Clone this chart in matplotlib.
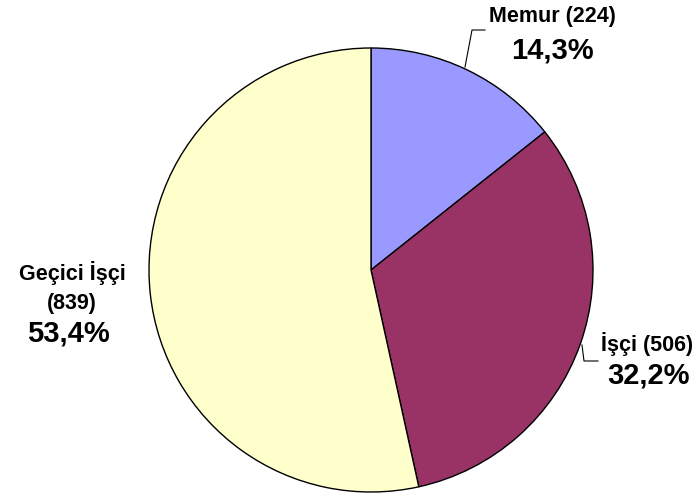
import matplotlib.pyplot as plt

plt.rcParams['font.family'] = ['Liberation Sans', 'DejaVu Sans']

labels = ['Memur', 'İşçi', 'Geçici İşçi']
counts = [224, 506, 839]
shares = [14.3, 32.2, 53.4]
colors = ['#9999FF', '#993366', '#FFFFCC']

W, H = 698, 499


def fy(py):
    # pixel row (top down) -> data y
    return H - py


fig = plt.figure(figsize=(W / 100, H / 100), dpi=100)
ax = fig.add_axes([0, 0, 1, 1])

ax.pie(shares, colors=colors, startangle=90, counterclock=False,
       center=(371, fy(270)), radius=222,
       wedgeprops=dict(edgecolor='black', linewidth=1))

ax.set_xlim(0, W)
ax.set_ylim(0, H)
ax.set_aspect('equal')
ax.axis('off')

small = dict(ha='center', va='baseline', fontsize=15.5, fontweight='bold')
big = dict(ha='center', va='baseline', fontsize=21, fontweight='bold')

# Memur
ax.plot([465, 472, 485], [fy(67), fy(30), fy(30)], color='black', lw=0.8)
ax.text(552, fy(22), 'Memur (%d)' % counts[0], **small)
ax.text(552, fy(58), '%.1f%%' % shares[0], **big)

# İşçi
ax.plot([582, 584, 598], [fy(345), fy(361), fy(361)], color='black', lw=0.8)
ax.text(647, fy(351), 'İşçi (%d)' % counts[1], **small)
ax.text(649, fy(384), '%.1f%%' % shares[1], **big)

# Geçici İşçi
ax.text(72, fy(280), 'Geçici İşçi', **small)
ax.text(72, fy(309), '(%d)' % counts[2], **small)
ax.text(68, fy(342), '%.1f%%' % shares[2], **big)

for t in ax.texts:
    t.set_text(t.get_text().replace('.', ','))

fig.savefig('out.png', dpi=100)
